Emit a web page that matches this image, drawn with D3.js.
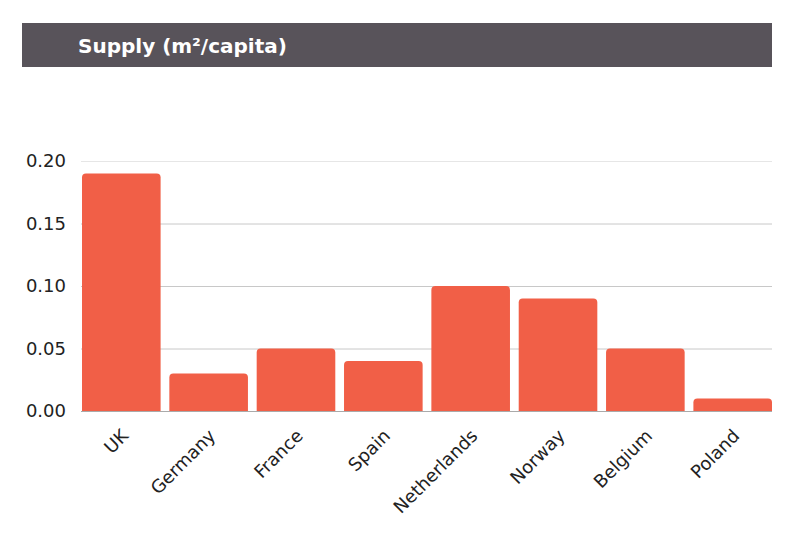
<!DOCTYPE html>
<html>
<head>
<meta charset="utf-8">
<script src="https://cdn.jsdelivr.net/npm/d3@7"></script>
<style>
  body { margin: 0; background: #fff; }
  text { font-family: "DejaVu Sans", Verdana, sans-serif; }
</style>
</head>
<body>
<svg width="788" height="540"></svg>
<script>
var countries = ["UK", "Germany", "France", "Spain", "Netherlands", "Norway", "Belgium", "Poland"];
var supply = [0.19, 0.03, 0.05, 0.04, 0.10, 0.09, 0.05, 0.01];
var yTicks = [0, 0.05, 0.10, 0.15, 0.20];

var svg = d3.select("svg");

// title bar
svg.append("rect")
  .attr("x", 22).attr("y", 23)
  .attr("width", 750).attr("height", 44)
  .attr("fill", "#58535a");
svg.append("text")
  .attr("x", 78).attr("y", 53)
  .attr("fill", "#fff")
  .style("font-size", "20px")
  .style("font-weight", "bold")
  .text("Supply (m²/capita)");

let x = d3.scaleBand()
  .domain(countries)
  .range([82, 772])
  .paddingInner(0.1)
  .paddingOuter(0);

let y = d3.scaleLinear()
  .domain([0, 0.2])
  .range([411, 161]);

// grid
svg.selectAll("line.grid").data(yTicks)
  .enter().append("line")
  .attr("class", "grid")
  .attr("x1", 81).attr("x2", 772)
  .attr("y1", function (d) { return y(d) + 0.5 })
  .attr("y2", function (d) { return y(d) + 0.5 })
  .attr("stroke", function (d) { return d == 0.2 ? "#e6e6e6" : "#c8c8c8" });

// bars with rounded tops
let r = 4;
svg.selectAll("path.bar").data(supply)
  .enter().append("path")
  .attr("class", "bar")
  .attr("fill", "#f15f47")
  .attr("d", function (d, i) {
    let x0 = x(countries[i]), w = x.bandwidth(), y0 = y(d), b = y(0);
    return "M" + x0 + "," + b +
      "V" + (y0 + r) +
      "Q" + x0 + "," + y0 + " " + (x0 + r) + "," + y0 +
      "H" + (x0 + w - r) +
      "Q" + (x0 + w) + "," + y0 + " " + (x0 + w) + "," + (y0 + r) +
      "V" + b + "Z";
  });

// baseline
svg.append("line")
  .attr("x1", 81).attr("x2", 772)
  .attr("y1", y(0) + 0.5).attr("y2", y(0) + 0.5)
  .attr("stroke", "#aaa");

// y labels
svg.selectAll("text.ylab").data(yTicks)
  .enter().append("text")
  .attr("class", "ylab")
  .attr("x", 66)
  .attr("y", function (d) { return y(d) + 6 })
  .attr("text-anchor", "end")
  .attr("fill", "#222")
  .style("font-size", "18px")
  .text(function (d) { return d3.format(".2f")(d) });

// x labels
svg.selectAll("text.xlab").data(countries)
  .enter().append("text")
  .attr("class", "xlab")
  .attr("text-anchor", "end")
  .attr("fill", "#222")
  .style("font-size", "18px")
  .attr("transform", function (d) {
    return "translate(" + (x(d) + x.bandwidth() / 2 + 8) + "," + 437 + ") rotate(-45)";
  })
  .text(function (d) { return d });
</script>
</body>
</html>
